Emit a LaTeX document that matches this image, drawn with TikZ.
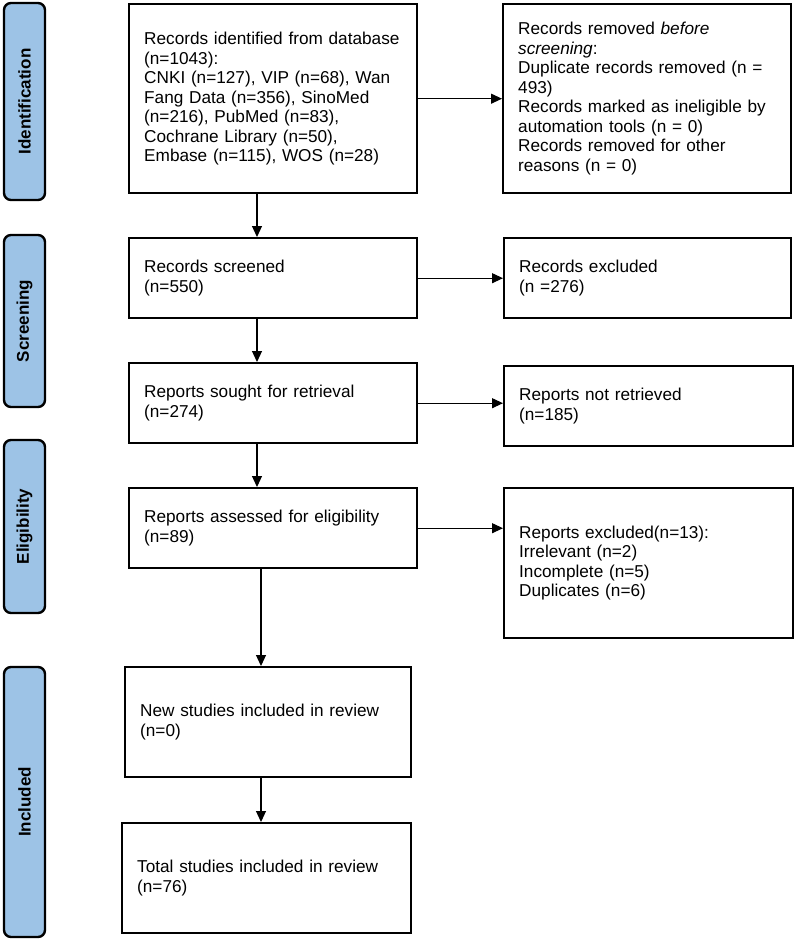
\documentclass[tikz,border=0pt]{standalone}
\usepackage{fontspec}
\setmainfont{Liberation Sans}
\usetikzlibrary{arrows.meta,positioning}

\definecolor{stageblue}{RGB}{157,195,230}

\begin{document}
\begin{tikzpicture}[
  x=1pt, y=-1pt,
  font=\fontsize{17.2}{19.5}\selectfont,
  box/.style={draw, line width=2.4pt, align=left, inner xsep=15pt, inner ysep=0pt, anchor=north west},
  stage/.style={draw, line width=2.4pt, rounded corners=7pt, fill=stageblue, rotate=90, minimum height=41pt, inner sep=0pt, font=\fontsize{17}{20}\selectfont\bfseries},
  arr/.style={-{Triangle[length=11pt,width=10pt]}, line width=1.1pt}
]
\useasboundingbox (0,0) rectangle (800,945);

% --- Stage labels ---
\node[stage, minimum width=197pt] (sid) at (24.5,101.5) {Identification};
\node[stage, minimum width=172pt] (sscr) at (24.5,321) {Screening};
\node[stage, minimum width=173pt] (selig) at (24.5,526.5) {Eligibility};
\node[stage, minimum width=270pt] (sinc) at (24.5,802) {Included};

% --- Main column ---
\node[box, text width=258pt, minimum height=189pt] (ident) at (128,3) {Records identified from database\\(n=1043):\\CNKI (n=127), VIP (n=68), Wan\\Fang Data (n=356), SinoMed\\(n=216), PubMed (n=83),\\Cochrane Library (n=50),\\Embase (n=115), WOS (n=28)};
\node[box, text width=258pt, minimum height=80pt] (screen) at (128,237) {Records screened\\(n=550)};
\node[box, text width=258pt, minimum height=80pt] (sought) at (128,362) {Reports sought for retrieval\\(n=274)};
\node[box, text width=258pt, minimum height=80pt] (assess) at (128,487) {Reports assessed for eligibility\\(n=89)};
\node[box, text width=256pt, minimum height=110pt] (newst) at (124,666) {New studies included in review\\(n=0)};
\node[box, text width=259pt, minimum height=110pt] (total) at (121,822) {Total studies included in review\\(n=76)};

% --- Side column ---
\node[box, text width=258pt, minimum height=189pt] (removed) at (502,3) {Records removed \textit{before}\\\textit{screening}:\\Duplicate records removed (n =\\493)\\Records marked as ineligible by\\automation tools (n = 0)\\Records removed for other\\reasons (n = 0)};
\node[box, text width=257pt, minimum height=80pt] (excl) at (503,237) {Records excluded\\(n =276)};
\node[box, text width=259pt, minimum height=80pt] (notret) at (503,365) {Reports not retrieved\\(n=185)};
\node[box, text width=259pt, minimum height=150pt] (repexcl) at (503,487) {Reports excluded(n=13):\\Irrelevant (n=2)\\Incomplete (n=5)\\Duplicates (n=6)};

% --- Arrows ---
\coordinate (sp1) at (257,0);
\coordinate (sp2) at (261,0);
\draw[arr] (ident.south -| sp1) -- (screen.north -| sp1);
\draw[arr] (screen.south -| sp1) -- (sought.north -| sp1);
\draw[arr] (sought.south -| sp1) -- (assess.north -| sp1);
\draw[arr] (assess.south -| sp2) -- (newst.north -| sp2);
\draw[arr] (newst.south -| sp2) -- (total.north -| sp2);

\draw[arr] (ident.east) -- (ident.east -| removed.west);
\draw[arr] (screen.east) -- (screen.east -| excl.west);
\draw[arr] (sought.east) -- (sought.east -| notret.west);
\draw[arr] (assess.east) -- (assess.east -| repexcl.west);

\end{tikzpicture}
\end{document}
